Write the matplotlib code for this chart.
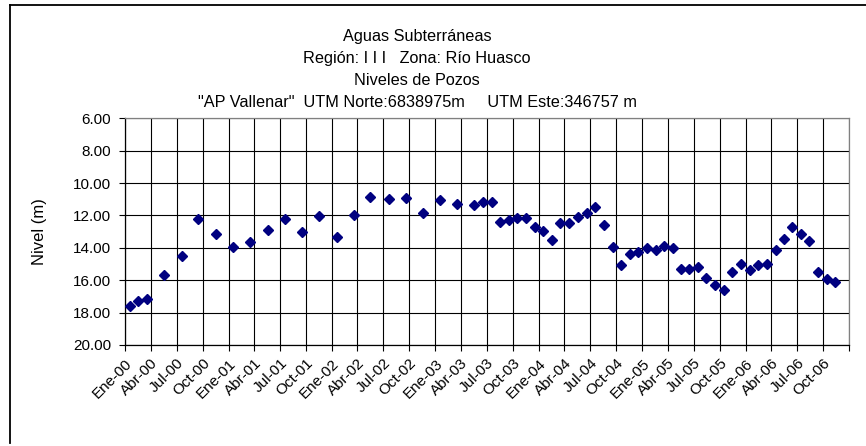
import pandas as pd
import numpy as np
import matplotlib.pyplot as plt
from matplotlib.lines import Line2D

plt.rcParams['font.family'] = ['Liberation Sans', 'DejaVu Sans']

# mediciones del pozo AP Vallenar
fechas = ['2000-01-18', '2000-02-16', '2000-03-20', '2000-05-19', '2000-07-19',
          '2000-09-16', '2000-11-16', '2001-01-16', '2001-03-18', '2001-05-19',
          '2001-07-18', '2001-09-17', '2001-11-17', '2002-01-18', '2002-03-20',
          '2002-05-16', '2002-07-20', '2002-09-18', '2002-11-18', '2003-01-16',
          '2003-03-18', '2003-05-18', '2003-06-18', '2003-07-20', '2003-08-18',
          '2003-09-18', '2003-10-18', '2003-11-18', '2003-12-19', '2004-01-17',
          '2004-02-17', '2004-03-18', '2004-04-18', '2004-05-19', '2004-06-18',
          '2004-07-19', '2004-08-19', '2004-09-18', '2004-10-18', '2004-11-18',
          '2004-12-18', '2005-01-17', '2005-02-17', '2005-03-20', '2005-04-19',
          '2005-05-16', '2005-06-15', '2005-07-16', '2005-08-15', '2005-09-14',
          '2005-10-17', '2005-11-14', '2005-12-14', '2006-01-15', '2006-02-15',
          '2006-03-17', '2006-04-17', '2006-05-17', '2006-06-13', '2006-07-15',
          '2006-08-14', '2006-09-14', '2006-10-14', '2006-11-13']
nivel = [17.59, 17.26, 17.18, 15.68, 14.50,
         12.22, 13.13, 13.93, 13.64, 12.92,
         12.24, 13.04, 12.05, 13.33, 11.97,
         10.84, 10.98, 10.94, 11.83, 11.07,
         11.29, 11.36, 11.17, 11.17, 12.42,
         12.26, 12.16, 12.18, 12.73, 12.98,
         13.54, 12.47, 12.45, 12.07, 11.87,
         11.50, 12.57, 13.95, 15.08, 14.38,
         14.28, 13.99, 14.13, 13.91, 14.01,
         15.29, 15.29, 15.17, 15.88, 16.30,
         16.59, 15.47, 15.02, 15.37, 15.04,
         15.00, 14.11, 13.43, 12.71, 13.13,
         13.58, 15.51, 15.93, 16.09]

meses = {1: 'Ene', 4: 'Abr', 7: 'Jul', 10: 'Oct'}
ticks_x = pd.date_range('2000-01-01', '2007-01-01', freq='QS')
etiquetas_x = [f"{meses[d.month]}-{d.strftime('%y')}" for d in ticks_x[:-1]] + ['']

titulo = ['Aguas Subterráneas',
          'Región: I I I   Zona: Río Huasco',
          'Niveles de Pozos',
          '"AP Vallenar"  UTM Norte:6838975m     UTM Este:346757 m']

W, H = 866, 446
fig = plt.figure(figsize=(W / 100, H / 100), dpi=100)
ax = fig.add_axes([125 / W, 1 - 345 / H, (849 - 125) / W, (345 - 118.3) / H])

x = pd.to_datetime(fechas)
ax.plot(x, nivel, linestyle='none', marker='D', markersize=5.5,
        color='#000080', markeredgecolor='#000080', zorder=3)

ax.set_xlim(pd.Timestamp('2000-01-01'), pd.Timestamp('2007-01-01'))
ax.set_ylim(20, 6)
ax.set_yticks(np.arange(6, 21, 2))
ax.set_yticklabels([f'{v:.2f}' for v in np.arange(6, 21, 2)])
ax.set_xticks(ticks_x)
ax.set_xticklabels(etiquetas_x, rotation=45, ha='right', va='top',
                   rotation_mode='anchor')
ax.tick_params(axis='both', labelsize=11, direction='out', length=4,
               width=0.8, color='black')
ax.tick_params(axis='y', pad=6)
ax.tick_params(axis='x', pad=4)

ax.grid(True, color='black', linewidth=0.8)
ax.set_axisbelow(True)
for lado in ['top', 'right']:
    ax.spines[lado].set_color('#808080')
for lado in ['left', 'bottom']:
    ax.spines[lado].set_color('black')
for s in ax.spines.values():
    s.set_linewidth(0.9)

ax.set_ylabel('Nivel (m)', fontsize=12)
ax.yaxis.set_label_coords(-0.108, 0.5)

for i, linea in enumerate(titulo):
    fig.text(417 / W, 1 - (37 + i * 21.7) / H, linea, ha='center', va='center',
             fontsize=11.7)

# marco del área del gráfico
fig.add_artist(Line2D([9.5 / W, 9.5 / W], [1 - 443 / H, 1 - 5 / H],
                      color='black', linewidth=1.3, transform=fig.transFigure))
fig.add_artist(Line2D([9.5 / W, 1.0], [1 - 5 / H, 1 - 5 / H],
                      color='black', linewidth=1.3, transform=fig.transFigure))

fig.savefig('out.png', dpi=100)
